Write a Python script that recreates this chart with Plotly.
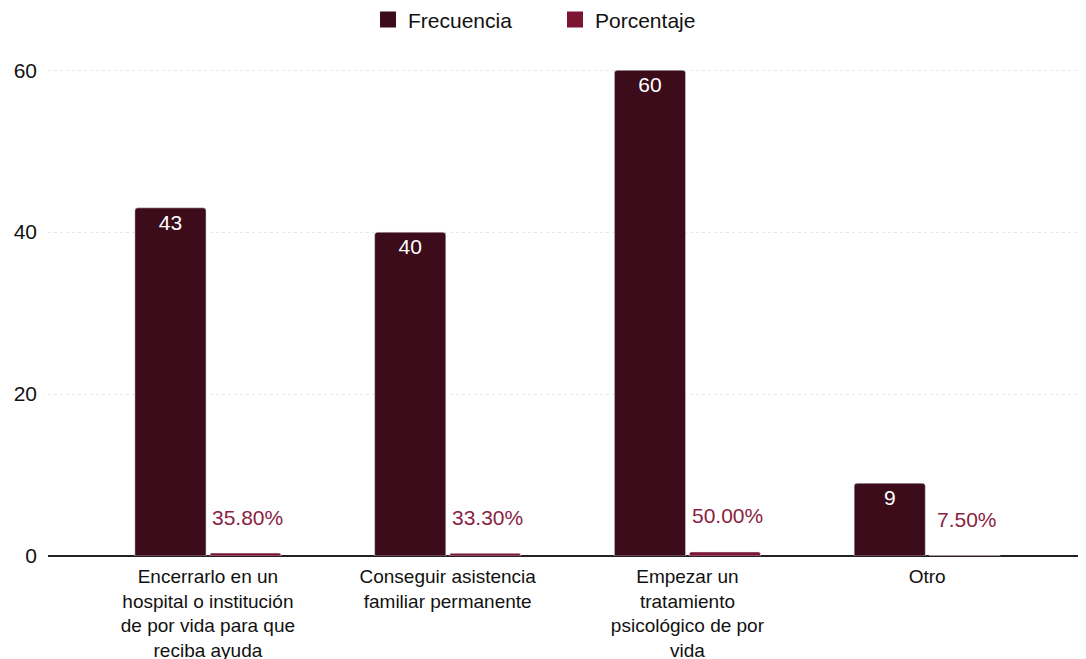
import plotly.graph_objects as go

categorias = [
    'Encerrarlo en un<br>hospital o institución<br>de por vida para que<br>reciba ayuda',
    'Conseguir asistencia<br>familiar permanente',
    'Empezar un<br>tratamiento<br>psicológico de por<br>vida',
    'Otro',
]
frecuencia = [43, 40, 60, 9]
porcentaje = [0.358, 0.333, 0.5, 0.075]
porcentaje_txt = ['35.80%', '33.30%', '50.00%', '7.50%']

col_frec = '#3c0c1b'
col_porc = '#7c1533'
fuente = 'Liberation Sans, Arial'

fig = go.Figure()
fig.add_trace(go.Bar(x=categorias, y=frecuencia, name='Frecuencia', showlegend=False,
                     marker=dict(color=col_frec, cornerradius=3),
                     text=[str(v) for v in frecuencia], textposition='inside',
                     insidetextanchor='end', textangle=0,
                     textfont=dict(color='white', size=21, family=fuente)))
fig.add_trace(go.Bar(x=categorias, y=porcentaje, name='Porcentaje', showlegend=False,
                     marker=dict(color=col_porc, cornerradius=2)))

# entradas de leyenda con cuadrados grandes
for nombre, col in [('Frecuencia', col_frec), ('Porcentaje', col_porc)]:
    fig.add_trace(go.Scatter(x=[None], y=[None], mode='markers', name=nombre,
                             marker=dict(symbol='square', size=22, color=col)))

# etiquetas de porcentaje sobre las barras pequeñas
for c, v, t in zip(categorias, porcentaje, porcentaje_txt):
    fig.add_annotation(x=c, y=v, text=t, showarrow=False, xshift=40, yshift=36,
                       font=dict(color='#8a1f3f', size=21, family=fuente))

# la página añade 8 px de margen al cuerpo
fig.update_layout(
    width=1086, height=659,
    margin=dict(l=40, r=10, t=46, b=111),
    plot_bgcolor='white', paper_bgcolor='white',
    font=dict(family=fuente, size=19, color='#111111'),
    barmode='group', bargap=0.375, bargroupgap=0.05,
    showlegend=True,
    legend=dict(orientation='h', xref='container', yref='container',
                x=0.3315, xanchor='left', y=0.982, yanchor='middle',
                font=dict(size=21), itemsizing='trace', entrywidth=142),
    xaxis=dict(range=[-0.667, 3.654], showgrid=False, ticks='', tickfont=dict(size=19),
               automargin=False, ticklabelstandoff=7),
    yaxis=dict(range=[0, 62], tickvals=[0, 20, 40, 60], showgrid=True,
               gridcolor='#e6e9e9', griddash='dot', zeroline=True, zerolinecolor='#222222',
               zerolinewidth=1.5, tickfont=dict(size=21), automargin=False,
               ticklabelstandoff=10),
)
fig.write_html("out.html")
